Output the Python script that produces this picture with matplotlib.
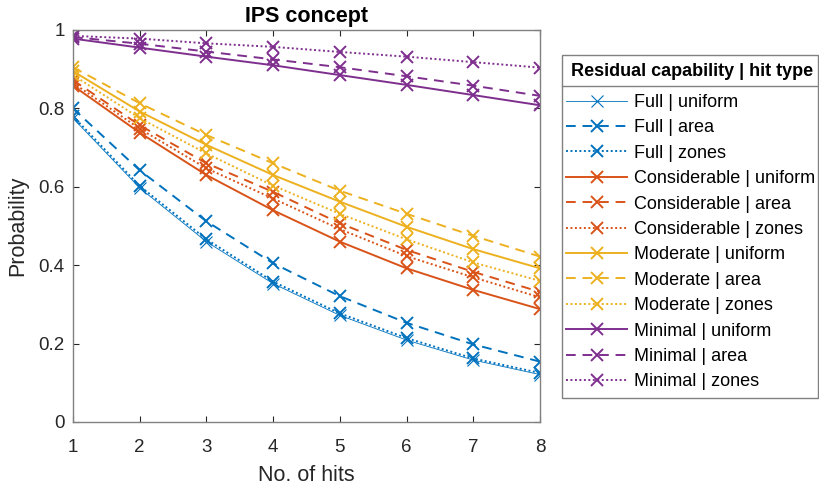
import matplotlib
matplotlib.use("Agg")
import matplotlib.pyplot as plt
from matplotlib.lines import Line2D
from matplotlib.patches import Rectangle

plt.rcParams['font.family'] = ['Liberation Sans', 'DejaVu Sans']

hits = [1, 2, 3, 4, 5, 6, 7, 8]

full_uniform = [0.775, 0.597, 0.460, 0.353, 0.272, 0.209, 0.158, 0.121]
full_area = [0.800, 0.642, 0.512, 0.405, 0.321, 0.253, 0.198, 0.154]
full_zones = [0.780, 0.602, 0.466, 0.358, 0.277, 0.214, 0.162, 0.125]

cons_uniform = [0.858, 0.738, 0.630, 0.540, 0.460, 0.392, 0.337, 0.288]
cons_area = [0.872, 0.757, 0.660, 0.587, 0.507, 0.439, 0.383, 0.332]
cons_zones = [0.865, 0.748, 0.647, 0.570, 0.492, 0.423, 0.369, 0.318]

mod_uniform = [0.895, 0.792, 0.707, 0.630, 0.562, 0.498, 0.441, 0.392]
mod_area = [0.905, 0.813, 0.732, 0.660, 0.590, 0.531, 0.475, 0.422]
mod_zones = [0.885, 0.775, 0.685, 0.603, 0.531, 0.466, 0.407, 0.360]

min_uniform = [0.978, 0.955, 0.932, 0.910, 0.885, 0.860, 0.834, 0.808]
min_area = [0.982, 0.965, 0.945, 0.925, 0.905, 0.882, 0.858, 0.832]
min_zones = [0.985, 0.978, 0.966, 0.957, 0.944, 0.932, 0.918, 0.904]

labels = ["Full | uniform", "Full | area", "Full | zones",
          "Considerable | uniform", "Considerable | area", "Considerable | zones",
          "Moderate | uniform", "Moderate | area", "Moderate | zones",
          "Minimal | uniform", "Minimal | area", "Minimal | zones"]
series = [full_uniform, full_area, full_zones,
          cons_uniform, cons_area, cons_zones,
          mod_uniform, mod_area, mod_zones,
          min_uniform, min_area, min_zones]
legend_title = 'Residual capability | hit type'

colors = ['#0072BD', '#D95319', '#EDB120', '#7E2F8E']
styles = [dict(linestyle='-'), dict(linestyle=(0, (5, 3.5))), dict(linestyle=(0, (1, 1.3)))]

W, H = 820, 488
fig = plt.figure(figsize=(W/100, H/100), dpi=100)
ax = fig.add_axes([73/W, 1-422/H, (540-73)/W, (422-30)/H])

handles = []
for i, (lab, ys) in enumerate(zip(labels, series)):
    c = colors[i // 3]
    st = styles[i % 3]
    lw = 0.6 if i == 0 else 1.4
    h, = ax.plot(hits, ys, color=c, lw=lw, marker='x', markersize=8.5,
                 markeredgewidth=1.4 if i else 0.8, label=lab, **st)
    handles.append(h)

ax.set_xlim(1, 8)
ax.set_ylim(0, 1)
ax.set_xticks(hits)
ax.set_yticks([0, 0.2, 0.4, 0.6, 0.8, 1.0])
ax.set_yticklabels(['0', '0.2', '0.4', '0.6', '0.8', '1'])
ax.tick_params(direction='in', top=True, right=True, labelsize=13.5,
               color='#262626', labelcolor='#262626', length=4)
ax.tick_params(axis='x', pad=12)
ax.tick_params(axis='y', pad=6)
for s in ax.spines.values():
    s.set_color('#808080')
    s.set_linewidth(1.0)
ax.set_xlabel('No. of hits', fontsize=15.5, color='#262626', labelpad=7)
ax.set_ylabel('Probability', fontsize=15.5, color='#262626', labelpad=7)
ax.set_title('IPS concept', fontsize=15.5, fontweight='bold', pad=6)

# legend box, title and separator
fig.add_artist(Rectangle((562/W, 1-398/H), (818-562)/W, (398-55)/H,
                         transform=fig.transFigure, fill=True, facecolor='white',
                         edgecolor='#808080', lw=1.0, zorder=1))
fig.add_artist(Line2D([562/W, 818/W], [1-86/H, 1-86/H], transform=fig.transFigure,
                      color='#808080', lw=1.0, zorder=2))
fig.text(692/W, 1-72/H, legend_title, fontsize=13, fontweight='bold',
         ha='center', va='center', zorder=3)

leg = fig.legend(handles=handles, loc='upper left',
                 bbox_to_anchor=(566/W, 1-94/H), borderaxespad=0,
                 fontsize=13, frameon=False, handlelength=3.4,
                 labelspacing=0.465, handletextpad=0.35, borderpad=0)
leg.set_zorder(4)

fig.savefig('out.png', dpi=100)
